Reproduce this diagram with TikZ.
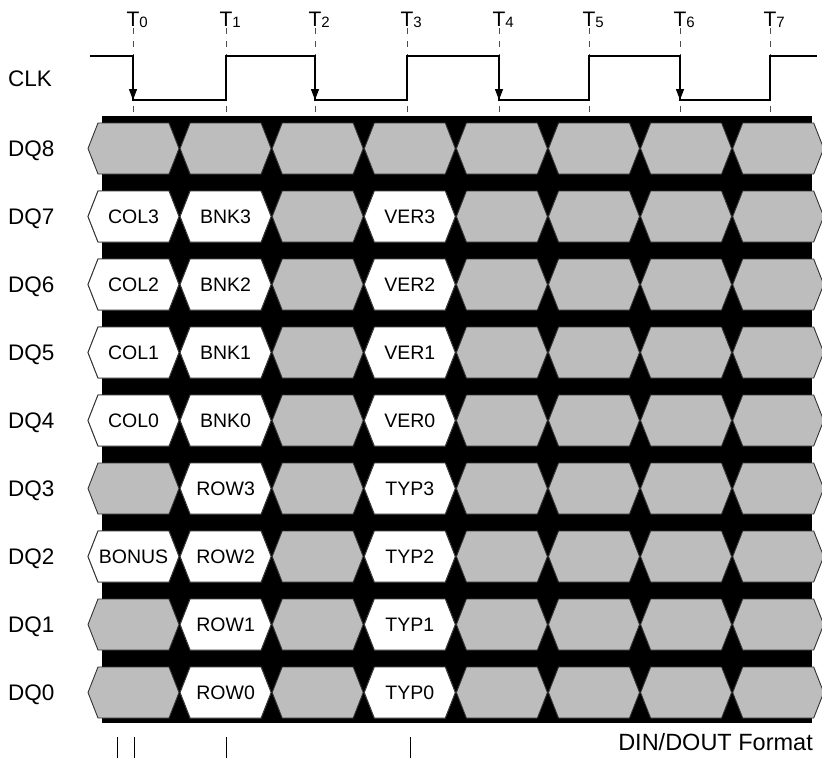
\documentclass[tikz,border=0pt]{standalone}
\usepackage{fontspec}
\setmainfont{Liberation Sans}
\usetikzlibrary{arrows.meta}

\definecolor{pontilhado}{gray}{0.74}
\tikzset{
  hexcell/.style={draw=black!80, line width=0.9pt},
  celltxt/.style={font=\fontsize{19.5}{23}\selectfont, inner sep=0pt},
  sinal/.style={anchor=base west, inner sep=0pt, font=\fontsize{22.5}{26}\selectfont},
  tlabel/.style={anchor=south, inner sep=0pt, font=\fontsize{21}{24}\selectfont},
  clkline/.style={line width=1.3pt},
  guia/.style={black!70, line width=0.7pt, dash pattern=on 6pt off 7pt},
}
% celula hexagonal: centro x, centro y, cor
\newcommand{\celula}[3]{%
  \filldraw[hexcell, fill=#3] (#1-45.5,#2) -- ++(10,-25.5) -- ++(71,0)
    -- ++(10,25.5) -- ++(-10,25.5) -- ++(-71,0) -- cycle;}

\begin{document}
\begin{tikzpicture}[x=1pt, y=-1pt]
  \useasboundingbox (0,0) rectangle (822,758);

  % Fundo preto do barramento
  \fill[black] (102,116) rectangle (812,723);

  % Celulas pontilhadas (todas)
  \foreach \r in {0,...,8}
    \foreach \k in {0,...,7}
      {\pgfmathsetmacro{\cx}{133.5+92.1*\k}
       \pgfmathsetmacro{\cy}{148.5+68*\r}
       \celula{\cx}{\cy}{pontilhado}}

  % Celulas brancas com dados
  \foreach \k/\r/\txt in {0/1/COL3, 1/1/BNK3, 3/1/VER3,
                          0/2/COL2, 1/2/BNK2, 3/2/VER2,
                          0/3/COL1, 1/3/BNK1, 3/3/VER1,
                          0/4/COL0, 1/4/BNK0, 3/4/VER0,
                          1/5/ROW3, 3/5/TYP3,
                          0/6/BONUS, 1/6/ROW2, 3/6/TYP2,
                          1/7/ROW1, 3/7/TYP1,
                          1/8/ROW0, 3/8/TYP0}
    {\pgfmathsetmacro{\cx}{133.5+92.1*\k}
     \pgfmathsetmacro{\cy}{148.5+68*\r}
     \celula{\cx}{\cy}{white}
     \node[celltxt] (d\r-\k) at (\cx,\cy) {\txt};}

  % Nomes dos sinais
  \node[sinal] (clk) at (8,86) {CLK};
  \foreach \r/\nome in {0/DQ8, 1/DQ7, 2/DQ6, 3/DQ5, 4/DQ4, 5/DQ3, 6/DQ2, 7/DQ1, 8/DQ0}
    \node[sinal] (\nome) at (8,{156.5+68*\r}) {\nome};

  % Marcas de tempo T0..T7 e linhas guia
  \foreach \i/\x in {0/133, 1/226, 2/315, 3/407, 4/499, 5/589, 6/680, 7/770}
    {\node[tlabel] (T\i) at (\x,28)
       {T\rlap{\raisebox{-1pt}{\fontsize{15}{16}\selectfont\i}}};
     \draw[guia] (T\i.south) -- ++(0,89);}

  % Relogio
  \draw[clkline] (90,56) -| (133,100) -| (226,56) -| (315,100) -| (407,56)
    -| (499,100) -| (589,56) -| (680,100) -| (770,56) -- (817,56);
  \foreach \x in {133,315,499,680}
    \draw[clkline, -{Triangle[length=11pt,width=8pt]}] (\x,56) -- (\x,100);

  % Tracos de baixo e legenda
  \foreach \x in {117,134,226,410}
    \draw[line width=1pt] (\x,737) -- (\x,758);
  \node[anchor=base east, inner sep=0pt, font=\fontsize{23.5}{27}\selectfont]
    (fmt) at (813,750) {DIN/DOUT Format};
\end{tikzpicture}
\end{document}
